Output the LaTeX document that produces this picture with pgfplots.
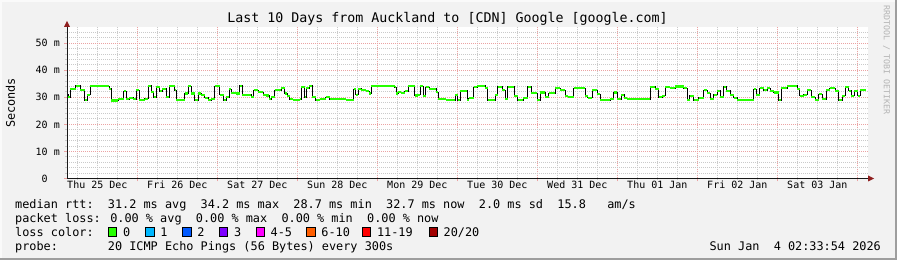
\documentclass[border=0pt]{standalone}
\usepackage{pgfplots}
\pgfplotsset{compat=1.18}
\usepackage{pgfplotstable}
\usepackage{fontspec}
\setmainfont{DejaVu Sans Mono}
\definecolor{bg}{HTML}{F2F2F2}
\definecolor{shadeA}{HTML}{FAFAFA}
\definecolor{shadeB}{HTML}{9E9E9E}
\definecolor{mgrid}{HTML}{EBA3A3}
\definecolor{mingrid}{HTML}{CACACA}
\definecolor{arrowc}{HTML}{8F1F1F}
\definecolor{rrdgray}{HTML}{B4B4B4}
\definecolor{l0}{HTML}{26FF00}
\definecolor{l1}{HTML}{00B8FF}
\definecolor{l2}{HTML}{0059FF}
\definecolor{l3}{HTML}{7E00FF}
\definecolor{l4}{HTML}{FF00FF}
\definecolor{l6}{HTML}{FF5E00}
\definecolor{l11}{HTML}{FF0000}
\definecolor{l20}{HTML}{A10000}

% x: hours since Thu 25 Dec 00:00, y: median rtt in ms
\pgfplotstableread{
h ms
2.8 31.0
3.2 30.0
3.9 33.2
5.5 34.3
6.9 32.6
8.2 28.9
8.9 31.0
9.9 34.2
15.5 33.2
16.2 28.8
18.2 29.5
19.9 32.2
20.7 29.3
21.5 29.8
22.7 29.3
23.7 32.6
24.5 28.9
26.2 29.5
27.2 34.3
28.2 32.0
28.9 30.1
29.7 33.8
30.7 32.2
31.5 33.2
32.7 30.1
33.5 34.2
35.2 32.6
35.7 28.9
38.2 31.4
39.2 34.2
40.2 31.4
41.2 28.9
42.2 31.4
43.2 31.0
44.2 29.8
45.2 28.9
46.2 29.3
47.2 34.2
48.7 31.0
49.9 28.9
50.7 30.1
51.5 33.0
52.2 31.7
53.7 31.4
54.7 34.3
55.5 31.0
58.2 30.1
58.9 32.6
60.2 32.0
61.7 31.0
62.7 30.7
63.5 29.3
64.2 30.1
65.2 32.6
67.2 33.4
68.2 31.4
68.9 30.5
69.7 29.3
70.7 28.9
72.7 29.3
73.2 33.8
74.2 30.1
74.7 33.4
75.5 34.3
76.5 30.1
77.5 28.9
78.7 29.3
80.5 30.1
81.7 29.3
83.7 29.5
85.2 29.3
86.7 28.9
88.9 33.0
89.5 31.0
90.2 33.2
91.2 32.6
92.7 32.2
93.5 31.4
94.2 34.2
99.2 34.3
101.2 33.8
101.7 31.4
102.2 32.0
103.2 31.7
104.2 32.2
105.2 34.2
107.2 30.7
108.2 31.0
108.9 34.2
109.7 30.5
110.5 33.8
111.5 33.2
113.7 32.0
114.2 29.3
116.7 29.0
119.4 30.8
120.1 29.0
120.9 32.4
122.9 29.0
123.4 29.6
124.9 33.7
125.9 34.3
128.4 33.4
129.1 29.0
131.4 31.0
132.1 33.9
133.4 32.7
134.4 29.4
135.1 33.9
137.1 30.6
138.1 29.0
139.7 29.6
141.1 33.9
142.1 31.5
143.9 29.0
144.9 31.8
146.4 30.0
147.4 31.5
149.4 33.4
150.9 32.7
152.4 30.6
153.1 30.2
154.9 33.4
158.4 30.6
159.1 29.8
160.4 32.7
161.9 31.2
162.9 29.0
165.9 29.4
166.9 31.8
167.9 29.4
169.1 31.0
170.1 29.6
170.9 29.3
177.9 33.9
179.4 33.0
180.4 30.0
181.4 30.6
182.4 33.7
183.9 33.4
185.4 34.0
187.9 33.4
188.9 29.0
189.7 30.6
190.9 29.0
192.4 29.8
193.9 32.7
194.9 31.5
195.9 29.4
196.9 31.0
197.9 32.4
198.9 30.0
199.9 33.9
200.7 32.4
201.9 31.0
202.9 29.8
203.9 29.0
208.9 33.0
209.7 31.0
210.7 33.4
211.9 32.7
212.9 33.4
213.9 32.2
214.9 31.8
216.4 29.0
217.1 33.4
218.9 34.3
221.9 33.0
222.7 30.6
223.9 31.0
224.9 32.7
226.1 30.0
227.4 29.0
228.4 31.2
229.4 29.4
230.7 32.7
231.7 33.4
233.4 32.4
234.4 29.0
235.4 30.6
236.4 33.7
237.4 32.4
238.1 30.6
239.1 32.2
240.1 30.6
240.9 32.8
242.5 32.8
}\rtt

\newcommand\lf{\fontsize{11.85bp}{14bp}\selectfont}
\newcommand\lbox[3]{%
  \filldraw[fill=#2, draw=black, line width=0.8bp] (#1bp,23.8bp) rectangle ++(8.5bp,8.5bp);
  \node[anchor=base west, inner sep=0pt, font=\lf] at (#1bp+14.5bp,23.4bp) {#3};}

\begin{document}
\begin{tikzpicture}
\fill[bg] (0,0) rectangle (897bp,260bp);
\fill[shadeA] (0,258bp) rectangle (897bp,260bp);
\fill[shadeA] (0,0) rectangle (2bp,260bp);
\fill[shadeB] (0,0) rectangle (897bp,2bp);
\fill[shadeB] (895bp,0) rectangle (897bp,260bp);

\begin{axis}[
  at={(67bp,81.5bp)}, anchor=south west,
  scale only axis, width=801bp, height=151bp,
  xmin=2.9, xmax=243.2, ymin=0, ymax=55.8,
  axis background/.style={fill=white},
  axis line style={draw=none},
  xtick={24,48,...,240}, xticklabels={},
  minor xtick={6,12,...,240},
  ytick={0,10,...,50},
  yticklabels={0\phantom{ m},10 m,20 m,30 m,40 m,50 m},
  minor ytick={2,4,...,54},
  grid=both,
  major grid style={mgrid, line width=1bp, dash pattern=on 1bp off 1bp},
  minor grid style={mingrid, line width=1bp, dash pattern=on 1bp off 1bp},
  tick align=outside, xtick pos=left, ytick pos=left,
  major tick length=3bp, minor tick length=2bp,
  major tick style={mgrid, line width=1bp},
  minor tick style={mingrid, line width=1bp},
  extra x ticks={12,36,...,228},
  extra x tick labels={Thu 25 Dec,Fri 26 Dec,Sat 27 Dec,Sun 28 Dec,Mon 29 Dec,Tue 30 Dec,Wed 31 Dec,Thu 01 Jan,Fri 02 Jan,Sat 03 Jan},
  extra x tick style={grid=none, major tick length=0pt},
  ticklabel style={font=\fontsize{10bp}{12bp}\selectfont},
  xticklabel style={anchor=base, yshift=-10bp, inner sep=0pt},
  yticklabel style={anchor=east, inner sep=0pt, xshift=-4bp},
]
\addplot[black, line width=0.8bp, const plot mark left] table[x=h,y=ms]{\rtt};
\addplot[l0, line width=2.2bp, jump mark left] table[x=h,y=ms]{\rtt};
\end{axis}

\draw[black!90, line width=1bp] (67bp,81.5bp) -- (869bp,81.5bp);
\fill[arrowc] (868bp,78.5bp) -- (874bp,81.5bp) -- (868bp,84.5bp) -- cycle;
\draw[black!90, line width=1bp] (67bp,81.5bp) -- (67bp,234bp);
\fill[arrowc] (64bp,233bp) -- (67bp,239bp) -- (70bp,233bp) -- cycle;

\node[font=\fontsize{13.3bp}{16bp}\selectfont, inner sep=0pt] at (447.5bp,241bp)
  {Last 10 Days from Auckland to [CDN] Google [google.com]};
\node[rotate=90, font=\lf, inner sep=0pt] at (10.5bp,157bp) {Seconds};
\node[rotate=-90, font=\fontsize{8.3bp}{10bp}\selectfont, text=rrdgray, inner sep=0pt] at (886.5bp,200bp) {RRDTOOL / TOBI OETIKER};

\node[anchor=base west, inner sep=0pt, font=\lf] at (15bp,51.5bp)
  {median rtt:~~31.2 ms avg~~34.2 ms max~~28.7 ms min~~32.7 ms now~~2.0 ms sd~~15.8~~~am/s};
\node[anchor=base west, inner sep=0pt, font=\lf] at (15bp,37.5bp)
  {packet loss: 0.00 \% avg~~0.00 \% max~~0.00 \% min~~0.00 \% now};
\node[anchor=base west, inner sep=0pt, font=\lf] at (15bp,23.4bp) {loss color:};
\node[anchor=base west, inner sep=0pt, font=\lf] at (15bp,9.3bp)
  {probe:~~~~~~~20 ICMP Echo Pings (56 Bytes) every 300s};
\node[anchor=base east, inner sep=0pt, font=\lf] at (881bp,9.3bp) {Sun Jan~~4 02:33:54 2026};

\lbox{108.3}{l0}{0}
\lbox{145.7}{l1}{1}
\lbox{182.7}{l2}{2}
\lbox{219.3}{l3}{3}
\lbox{256}{l4}{4-5}
\lbox{306.7}{l6}{6-10}
\lbox{362.3}{l11}{11-19}
\lbox{429}{l20}{20/20}

\pgfresetboundingbox
\useasboundingbox (0,0) rectangle (897bp,260bp);
\end{tikzpicture}
\end{document}
